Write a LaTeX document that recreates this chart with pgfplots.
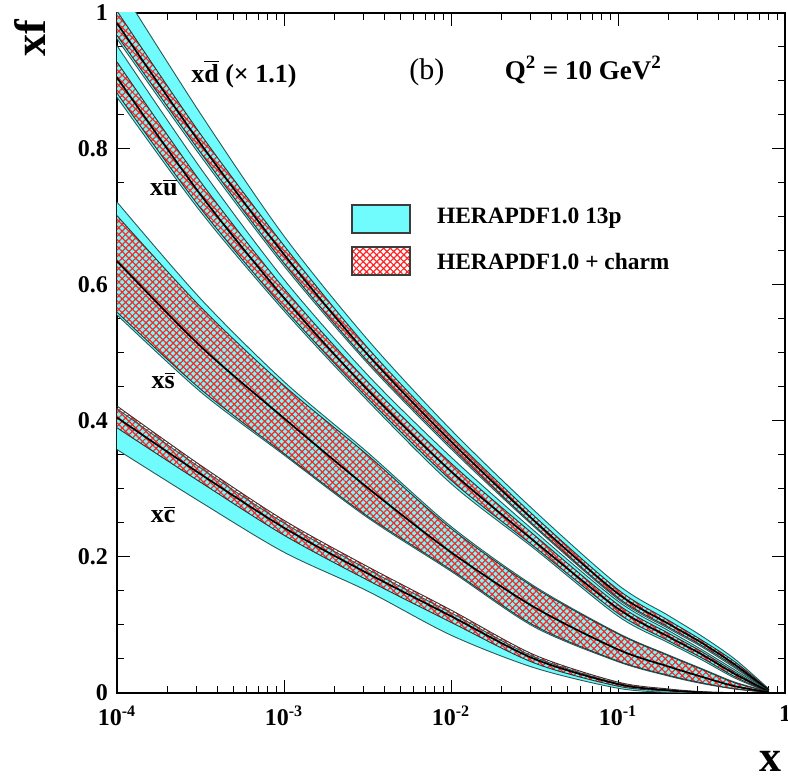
\documentclass[border=0pt]{standalone}
\usepackage{fontspec}
\setmainfont{Liberation Serif}
\usepackage{pgfplots}
\pgfplotsset{compat=1.18}
\usepackage{pgfplotstable}
\usepgfplotslibrary{fillbetween}
\usetikzlibrary{patterns.meta}

\definecolor{cyanband}{RGB}{112,252,252}
\definecolor{cyanedge}{RGB}{40,90,90}
\definecolor{hatchred}{RGB}{255,35,35}
\definecolor{boxedge}{RGB}{60,60,60}

\newcommand\ob[1]{\ensuremath{\overline{\hbox{#1}}}}

% columns: x, cyan upper, cyan lower, red upper, red lower, red central
\pgfplotstableread{
x        cu     cl     ru     rl     c
0.0001   1.045  0.962  1.003  0.967  0.985
0.000316 0.852  0.790  0.822  0.795  0.808
0.001    0.672  0.628  0.658  0.632  0.645
0.00316  0.520  0.485  0.508  0.488  0.498
0.01     0.387  0.359  0.378  0.362  0.370
0.0316   0.268  0.244  0.260  0.246  0.253
0.1      0.159  0.138  0.152  0.140  0.146
0.2      0.114  0.095  0.107  0.097  0.102
0.316    0.084  0.068  0.078  0.070  0.074
0.5      0.050  0.037  0.046  0.039  0.042
0.8      0.006  0.003  0.005  0.003  0.004
}\dbar

\pgfplotstableread{
x        cu     cl     ru     rl     c
0.0001   0.952  0.876  0.928  0.882  0.905
0.000316 0.772  0.708  0.752  0.713  0.733
0.001    0.608  0.562  0.595  0.566  0.581
0.00316  0.468  0.430  0.458  0.434  0.446
0.01     0.347  0.308  0.338  0.313  0.326
0.0316   0.238  0.212  0.232  0.215  0.223
0.1      0.135  0.113  0.130  0.117  0.124
0.2      0.092  0.074  0.088  0.077  0.083
0.316    0.064  0.049  0.061  0.052  0.057
0.5      0.034  0.022  0.031  0.024  0.028
0.8      0.003  0.001  0.002  0.001  0.002
}\ubar

\pgfplotstableread{
x        cu     cl     ru     rl     c
0.0001   0.722  0.556  0.702  0.560  0.635
0.000316 0.580  0.443  0.568  0.447  0.510
0.001    0.458  0.350  0.452  0.352  0.404
0.00316  0.354  0.258  0.350  0.260  0.302
0.01     0.245  0.179  0.242  0.181  0.207
0.0316   0.157  0.097  0.155  0.099  0.126
0.1      0.088  0.046  0.087  0.047  0.064
0.2      0.056  0.025  0.055  0.026  0.039
0.316    0.036  0.014  0.035  0.015  0.024
0.5      0.016  0.006  0.015  0.006  0.010
0.8      0.002  0.001  0.002  0.001  0.001
}\sbar

\pgfplotstableread{
x        cu     cl     ru     rl     c
0.0001   0.418  0.358  0.422  0.390  0.405
0.000316 0.331  0.281  0.335  0.310  0.322
0.001    0.250  0.207  0.254  0.232  0.243
0.00316  0.182  0.150  0.186  0.166  0.176
0.01     0.118  0.085  0.122  0.104  0.113
0.0316   0.053  0.037  0.056  0.044  0.050
0.1      0.014  0.007  0.016  0.010  0.013
0.2      0.004  0.001  0.006  0.003  0.004
0.316    0.001  0.000  0.002  0.001  0.001
0.5      0.000  0.000  0.000  0.000  0.000
0.8      0.000  0.000  0.000  0.000  0.000
}\cbar

\newcommand\bandpaths[2]{%
  \addplot[name path=#2cu, draw=none, smooth] table[x=x,y=cu]{#1};
  \addplot[name path=#2cl, draw=none, smooth] table[x=x,y=cl]{#1};
  \addplot[name path=#2ru, draw=none, smooth] table[x=x,y=ru]{#1};
  \addplot[name path=#2rl, draw=none, smooth] table[x=x,y=rl]{#1};
}
\newcommand\cyanfill[1]{%
  \addplot[cyanband] fill between[of=#1cu and #1cl];
}
\newcommand\redfill[1]{%
  \addplot[pattern={Lines[angle=45,distance=2.4pt,line width=0.6pt]}, pattern color=hatchred] fill between[of=#1ru and #1rl];
  \addplot[pattern={Lines[angle=-45,distance=2.4pt,line width=0.6pt]}, pattern color=hatchred] fill between[of=#1ru and #1rl];
}
\newcommand\bandlines[1]{%
  \addplot[cyanedge, line width=0.45pt, smooth] table[x=x,y=cu]{#1};
  \addplot[cyanedge, line width=0.45pt, smooth] table[x=x,y=cl]{#1};
  \addplot[black!80, line width=0.45pt, smooth] table[x=x,y=ru]{#1};
  \addplot[black!80, line width=0.45pt, smooth] table[x=x,y=rl]{#1};
  \addplot[black, line width=0.85pt, smooth] table[x=x,y=c]{#1};
}

\begin{document}
\begin{tikzpicture}
\begin{axis}[
  scale only axis,
  width=334pt, height=340pt,
  xmode=log,
  xmin=1e-4, xmax=1, ymin=0, ymax=1,
  xtick={1e-4,1e-3,1e-2,1e-1,1},
  xticklabels={10\textsuperscript{-4},10\textsuperscript{-3},10\textsuperscript{-2},10\textsuperscript{-1},1},
  minor xtick={0.0002,0.0003,0.0004,0.0005,0.0006,0.0007,0.0008,0.0009,
               0.002,0.003,0.004,0.005,0.006,0.007,0.008,0.009,
               0.02,0.03,0.04,0.05,0.06,0.07,0.08,0.09,
               0.2,0.3,0.4,0.5,0.6,0.7,0.8,0.9},
  ytick={0,0.2,0.4,0.6,0.8,1},
  yticklabels={0,0.2,0.4,0.6,0.8,1},
  minor ytick={0.05,0.1,0.15,0.25,0.3,0.35,0.45,0.5,0.55,0.65,0.7,0.75,0.85,0.9,0.95},
  tick label style={font=\bfseries\fontsize{12}{13}\selectfont},
  xticklabel style={yshift=-3pt},
  yticklabel style={xshift=-1pt},
  major tick length=6.5pt, minor tick length=3.5pt,
  tick style={black, line width=0.5pt},
  axis line style={line width=0.6pt},
  xlabel={\textbf{x}},
  xlabel style={at={(rel axis cs:0.979,-0.100)}, anchor=center, font=\fontsize{22}{24}\selectfont},
  ylabel={\textbf{xf}},
  ylabel style={at={(rel axis cs:-0.130,0.963)}, anchor=center, rotate=0, font=\fontsize{22}{24}\selectfont},
]
\bandpaths{\dbar}{D}
\bandpaths{\ubar}{U}
\bandpaths{\sbar}{S}
\bandpaths{\cbar}{C}

\cyanfill{D}
\cyanfill{U}
\cyanfill{S}
\cyanfill{C}

\redfill{D}
\redfill{U}
\redfill{S}
\redfill{C}

\bandlines{\dbar}
\bandlines{\ubar}
\bandlines{\sbar}
\bandlines{\cbar}

% labels
\node[font=\bfseries\fontsize{13}{15}\selectfont] at (rel axis cs:0.190,0.910) {x\ob{d} (\texttimes\ 1.1)};
\node[font=\fontsize{15}{17}\selectfont] at (rel axis cs:0.464,0.913) {(b)};
\node[font=\bfseries\fontsize{13.5}{15}\selectfont] at (rel axis cs:0.698,0.916) {Q\textsuperscript{2} = 10 GeV\textsuperscript{2}};
\node[font=\bfseries\fontsize{13}{15}\selectfont] at (rel axis cs:0.070,0.743) {x\ob{u}};
\node[font=\bfseries\fontsize{13}{15}\selectfont] at (rel axis cs:0.069,0.460) {x\ob{s}};
\node[font=\bfseries\fontsize{13}{15}\selectfont] at (rel axis cs:0.069,0.262) {x\ob{c}};

% legend
\draw[fill=cyanband, draw=boxedge, line width=0.6pt] (rel axis cs:0.3518,0.6765) rectangle (rel axis cs:0.4386,0.7176);
\fill[white] (rel axis cs:0.3518,0.6147) rectangle (rel axis cs:0.4386,0.6559);
\fill[pattern={Lines[angle=45,distance=2.4pt,line width=0.6pt]}, pattern color=hatchred] (rel axis cs:0.3518,0.6147) rectangle (rel axis cs:0.4386,0.6559);
\fill[pattern={Lines[angle=-45,distance=2.4pt,line width=0.6pt]}, pattern color=hatchred] (rel axis cs:0.3518,0.6147) rectangle (rel axis cs:0.4386,0.6559);
\draw[draw=boxedge, line width=0.6pt] (rel axis cs:0.3518,0.6147) rectangle (rel axis cs:0.4386,0.6559);
\node[anchor=west, font=\bfseries\fontsize{11.7}{13}\selectfont] at (rel axis cs:0.4686,0.6985) {HERAPDF1.0 13p};
\node[anchor=west, font=\bfseries\fontsize{11.7}{13}\selectfont] at (rel axis cs:0.4686,0.6338) {HERAPDF1.0 + charm};
\end{axis}
\pgfresetboundingbox
\useasboundingbox (-58.5pt,-44pt) rectangle (335.5pt,346.5pt);
\end{tikzpicture}
\end{document}
